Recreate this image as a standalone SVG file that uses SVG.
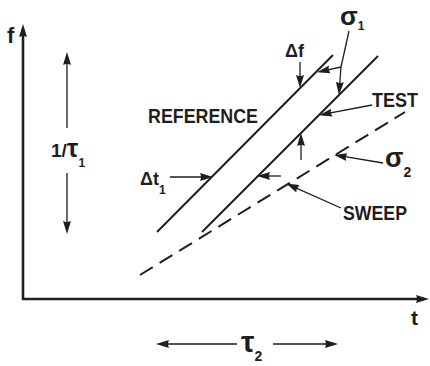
<svg xmlns="http://www.w3.org/2000/svg" width="430" height="366" viewBox="0 0 430 366">
<style>
.ln{stroke:#1e1e1e;fill:none;stroke-linecap:butt}
.ax{stroke-width:2.6}
.main{stroke-width:2}
.thin{stroke-width:1.3}
.lbl{font-family:"Liberation Sans",Arial,sans-serif;font-weight:bold;fill:#1e1e1e}
</style>
<defs>
<marker id="ah" markerUnits="userSpaceOnUse" markerWidth="13" markerHeight="9" refX="8" refY="4.5" orient="auto" viewBox="0 0 13 9">
<path d="M0,0.5 L13,4.5 L0,8.5 Q2,4.5 0,0.5 z" fill="#1e1e1e"/>
</marker>
</defs>
<g id="axes">
<line class="ln ax" x1="23" y1="300" x2="23" y2="29" marker-end="url(#ah)"/>
<line class="ln ax" x1="22" y1="299" x2="424" y2="299" marker-end="url(#ah)"/>
<text class="lbl" x="7" y="43" font-size="22">f</text>
<text class="lbl" x="411" y="325" font-size="21">t</text>
</g>
<g id="reference">
<line class="ln main" x1="157" y1="232" x2="333" y2="55"/>
<text class="lbl" x="148" y="123" font-size="20" textLength="110" lengthAdjust="spacingAndGlyphs">REFERENCE</text>
</g>
<g id="test">
<line class="ln main" x1="202" y1="232" x2="378" y2="56"/>
<text class="lbl" x="372" y="107" font-size="20" textLength="46" lengthAdjust="spacingAndGlyphs">TEST</text>
</g>
<g id="sweep">
<line class="ln main" x1="140" y1="275" x2="405" y2="112" stroke-dasharray="15 8"/>
<text class="lbl" x="343" y="220" font-size="20" textLength="64" lengthAdjust="spacingAndGlyphs">SWEEP</text>
</g>
<g id="tau1">
<text class="lbl" x="51" y="157" font-size="19">1/<tspan font-size="26">τ</tspan><tspan font-size="12" dy="10">1</tspan></text>
</g>
<g id="tau2">
<text class="lbl" x="241" y="352" font-size="30">τ<tspan font-size="14" dy="9">2</tspan></text>
</g>
<g id="sigma1">
<text class="lbl" x="340" y="25" font-size="26">σ<tspan font-size="12" dy="5">1</tspan></text>
</g>
<g id="sigma2">
<text class="lbl" x="385" y="167" font-size="27">σ<tspan font-size="14" dy="10">2</tspan></text>
</g>
<g id="deltaf">
<text class="lbl" x="285" y="57" font-size="18">Δf</text>
</g>
<g id="deltat">
<text class="lbl" x="140" y="185" font-size="18">Δt<tspan font-size="12" dy="9">1</tspan></text>
</g>
<g id="connectors">
<line class="ln thin" x1="67" y1="128" x2="67" y2="57" marker-end="url(#ah)"/>
<line class="ln thin" x1="67" y1="173" x2="67" y2="229" marker-end="url(#ah)"/>
<line class="ln thin" x1="300" y1="62" x2="300" y2="83" marker-end="url(#ah)"/>
<polyline class="ln thin" points="349,31 341,67"/>
<line class="ln thin" x1="341" y1="67" x2="322" y2="71.1" marker-end="url(#ah)"/>
<line class="ln thin" x1="341" y1="67" x2="339.3" y2="90" marker-end="url(#ah)"/>
<line class="ln thin" x1="372" y1="105" x2="324" y2="114.2" marker-end="url(#ah)"/>
<line class="ln thin" x1="301" y1="160" x2="301" y2="138" marker-end="url(#ah)"/>
<line class="ln thin" x1="170" y1="177" x2="208" y2="177" marker-end="url(#ah)"/>
<line class="ln thin" x1="281" y1="176" x2="262" y2="176" marker-end="url(#ah)"/>
<line class="ln thin" x1="383" y1="163" x2="339" y2="155.7" marker-end="url(#ah)"/>
<line class="ln thin" x1="341" y1="208" x2="290.7" y2="185.6" marker-end="url(#ah)"/>
<line class="ln thin" x1="237" y1="344" x2="161" y2="344" marker-end="url(#ah)"/>
<line class="ln thin" x1="273" y1="344" x2="333" y2="344" marker-end="url(#ah)"/>
</g>
</svg>
